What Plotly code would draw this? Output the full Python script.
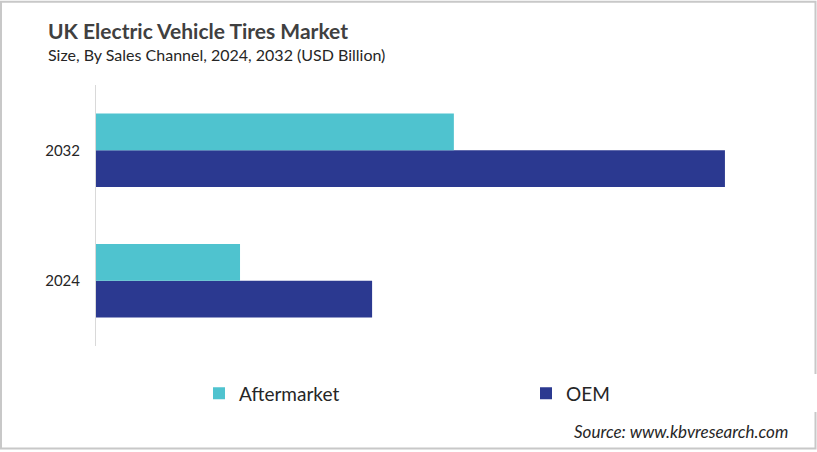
import plotly.graph_objects as go

years = ["2024", "2032"]
aftermarket = [0.229, 0.569]
oem = [0.439, 1.000]

W, H = 817, 452
L, R = 96, 796
T, B = 84.5, 346.5
pw, ph = R - L, B - T

def px(x):
    return (x - L) / pw

def py(y):
    return (B - y) / ph

font = "Lato"

fig = go.Figure()
fig.add_trace(go.Bar(y=years, x=oem, name="OEM", orientation="h",
                     marker=dict(color="#2B3990", line=dict(width=0))))
fig.add_trace(go.Bar(y=years, x=aftermarket, name="Aftermarket", orientation="h",
                     marker=dict(color="#4FC3CF", line=dict(width=0))))

fig.update_layout(
    width=W, height=H,
    margin=dict(l=L, r=W - R, t=T, b=H - B, autoexpand=False),
    paper_bgcolor="white", plot_bgcolor="white",
    barmode="group", bargap=0.435, bargroupgap=0,
    showlegend=True,
    legend=dict(orientation="h", traceorder="reversed", x=px(199), xanchor="left",
                y=py(394), yanchor="middle", entrywidth=282, entrywidthmode="pixels",
                font=dict(family=font, size=19, color="#262626")),
    font=dict(family=font),
)
fig.update_xaxes(range=[0, 1.113], visible=False, showgrid=False, zeroline=False)
fig.update_yaxes(showline=True, linecolor="#d9d9d9", linewidth=1, ticks="",
                 showgrid=False, ticklabelstandoff=12,
                 tickfont=dict(family=font, size=15, color="#262626"))

fig.add_annotation(text="<b>UK Electric Vehicle Tires Market</b>", xref="paper", yref="paper",
                   x=px(46), y=py(30), xanchor="left", yanchor="middle", showarrow=False,
                   font=dict(family=font, size=21, color="#404040"))
fig.add_annotation(text="Size, By Sales Channel, 2024, 2032 (USD Billion)", xref="paper", yref="paper",
                   x=px(46), y=py(54), xanchor="left", yanchor="middle", showarrow=False,
                   font=dict(family=font, size=16, color="#262626"))
fig.add_annotation(text="<i>Source: www.kbvresearch.com</i>", xref="paper", yref="paper",
                   x=px(790), y=py(432), xanchor="right", yanchor="middle", showarrow=False,
                   font=dict(family=font, size=17, color="#262626"))

fig.add_shape(type="rect", xref="paper", yref="paper",
              x0=px(1), x1=px(815.5), y0=py(449.5), y1=py(1),
              line=dict(color="#c8c8c8", width=2), fillcolor="rgba(0,0,0,0)", layer="below")

fig.write_html("out.html", config={"displayModeBar": False},
               post_script="document.body.style.margin='0';")
